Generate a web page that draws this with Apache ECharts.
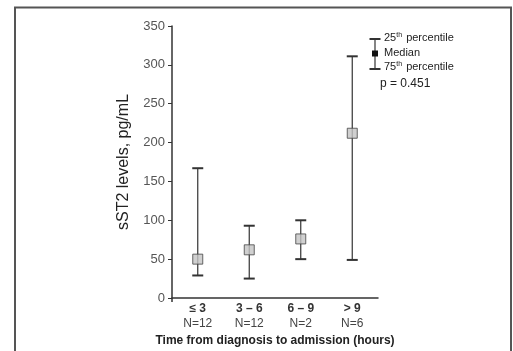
<!DOCTYPE html>
<html>
<head>
<meta charset="utf-8">
<script src="https://cdn.jsdelivr.net/npm/echarts@6/dist/echarts.min.js"></script>
<style>
  html, body { margin: 0; padding: 0; background: #fff; }
  #chart { width: 513px; height: 351px; }
</style>
</head>
<body>
<div id="chart"></div>
<script>
const timeGroups = ["≤ 3", "3 – 6", "6 – 9", "> 9"]
const groupSizes = ["N=12", "N=12", "N=2", "N=6"]
const medians = [50, 62, 76, 212]
const p25 = [29, 25, 50, 49]
const p75 = [167, 93, 100, 311]
const yTicks = [0, 50, 100, 150, 200, 250, 300, 350]

const chart = echarts.init(document.getElementById("chart"))
const FONT = "Liberation Sans, Arial, sans-serif"

// error bar rows: [category index, low, high]
const barRows = timeGroups.map((_, i) => [i, p25[i], p75[i]])

const option = {
  animation: false,
  backgroundColor: "#fff",
  grid: { left: 172, right: 135, top: 26, bottom: 53, containLabel: false, outerBoundsMode: "none" },
  xAxis: {
    type: "category",
    data: timeGroups.map((g, i) => g + "\n" + groupSizes[i]),
    boundaryGap: true,
    axisLine: { lineStyle: { color: "#333", width: 1.5 } },
    axisTick: { show: false },
    axisLabel: {
      margin: 3,
      interval: 0,
      fontFamily: FONT,
      formatter: (v) => {
        const [g, n] = v.split("\n")
        return "{g|" + g + "}\n{n|" + n + "}"
      },
      rich: {
        g: { fontSize: 12, fontWeight: "bold", color: "#333", fontFamily: FONT, lineHeight: 15 },
        n: { fontSize: 12, color: "#444", fontFamily: FONT, lineHeight: 15 }
      }
    },
    name: "Time from diagnosis to admission (hours)",
    nameLocation: "middle",
    nameGap: 36,
    nameTextStyle: { fontSize: 12, fontWeight: "bold", color: "#222", fontFamily: FONT }
  },
  yAxis: {
    type: "value",
    min: yTicks[0],
    max: yTicks[yTicks.length - 1],
    interval: yTicks[1] - yTicks[0],
    splitLine: { show: false },
    axisLine: { show: true, lineStyle: { color: "#333", width: 1.5 } },
    axisTick: { show: true, length: 4, lineStyle: { color: "#333" } },
    axisLabel: { margin: 7, fontSize: 13, color: "#555", fontFamily: FONT },
    name: "sST2 levels, pg/mL",
    nameLocation: "middle",
    nameGap: 40,
    nameTextStyle: { fontSize: 16, color: "#222", fontFamily: FONT }
  },
  series: [
    {
      type: "custom",
      data: barRows,
      encode: { x: 0, y: [1, 2] },
      renderItem: (params, api) => {
        const lo = api.coord([api.value(0), api.value(1)])
        const hi = api.coord([api.value(0), api.value(2)])
        const half = 5.5
        const style = { stroke: "#333", lineWidth: 1.2 }
        const cap = { stroke: "#333", lineWidth: 2 }
        return {
          type: "group",
          children: [
            { type: "line", shape: { x1: lo[0], y1: lo[1], x2: hi[0], y2: hi[1] }, style },
            { type: "line", shape: { x1: lo[0] - half, y1: lo[1], x2: lo[0] + half, y2: lo[1] }, style: cap },
            { type: "line", shape: { x1: hi[0] - half, y1: hi[1], x2: hi[0] + half, y2: hi[1] }, style: cap }
          ]
        }
      },
      z: 2
    },
    {
      type: "scatter",
      data: medians,
      symbol: "rect",
      symbolSize: 10,
      itemStyle: { color: "#c4c4c4", borderColor: "#444", borderWidth: 1 },
      z: 3
    }
  ],
  graphic: [
    // outer frame
    { type: "rect", shape: { x: 15, y: 7.5, width: 496, height: 360 },
      style: { fill: "none", stroke: "#555", lineWidth: 2 }, silent: true },
    // y axis stub below the x axis
    { type: "line", shape: { x1: 172, y1: 298, x2: 172, y2: 302 }, style: { stroke: "#333", lineWidth: 1.5 } },
    // legend key
    { type: "line", shape: { x1: 375, y1: 39, x2: 375, y2: 69 }, style: { stroke: "#333", lineWidth: 1.2 } },
    { type: "line", shape: { x1: 369.5, y1: 39, x2: 380.5, y2: 39 }, style: { stroke: "#333", lineWidth: 2 } },
    { type: "line", shape: { x1: 369.5, y1: 69, x2: 380.5, y2: 69 }, style: { stroke: "#333", lineWidth: 2 } },
    { type: "rect", shape: { x: 372, y: 50.5, width: 6, height: 6 }, style: { fill: "#111" } },
    { type: "text", left: 384, top: 32,
      style: { text: "25{s|th} percentile", fontSize: 11, fill: "#222", fontFamily: FONT,
        rich: { s: { fontSize: 7, verticalAlign: "top", fill: "#222", fontFamily: FONT, padding: [0, 1, 4, 0] } } } },
    { type: "text", left: 384, top: 47,
      style: { text: "Median", fontSize: 11, fill: "#222", fontFamily: FONT } },
    { type: "text", left: 384, top: 61,
      style: { text: "75{s|th} percentile", fontSize: 11, fill: "#222", fontFamily: FONT,
        rich: { s: { fontSize: 7, verticalAlign: "top", fill: "#222", fontFamily: FONT, padding: [0, 1, 4, 0] } } } },
    { type: "text", left: 380, top: 78,
      style: { text: "p = 0.451", fontSize: 12, fill: "#222", fontFamily: FONT } }
  ]
}

chart.setOption(option)
</script>
</body>
</html>
